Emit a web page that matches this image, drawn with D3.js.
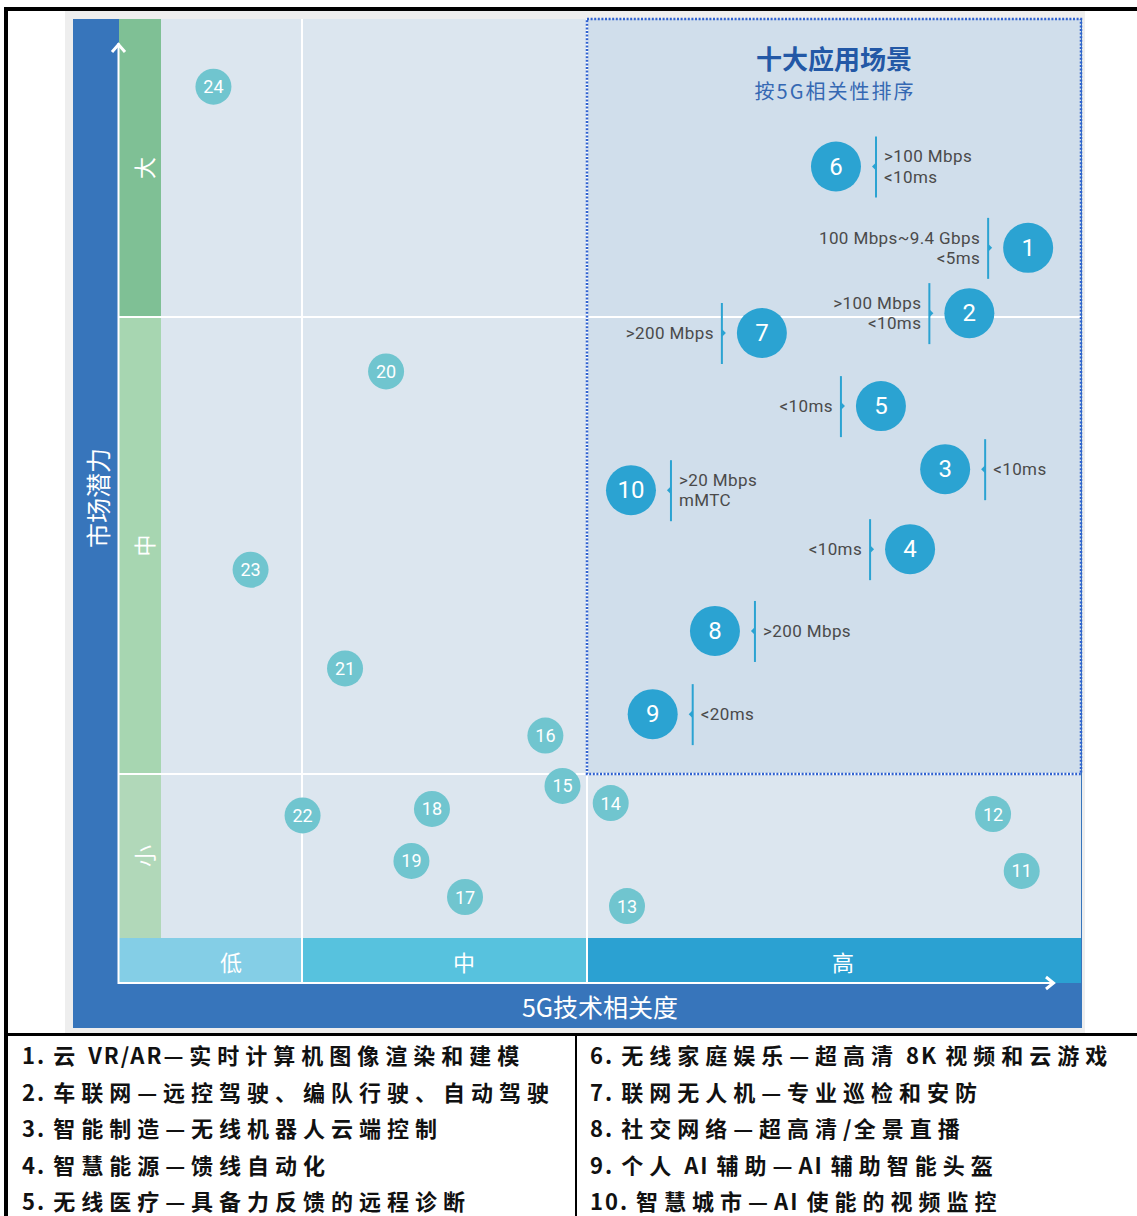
<!DOCTYPE html>
<html>
<head>
<meta charset="utf-8">
<script src="https://cdn.jsdelivr.net/npm/d3@7"></script>
<style>
  body { margin: 0; background: #fff; }
  svg { display: block; }
</style>
</head>
<body>
<div class="chart"></div>
<script>
// scenario ids, x = 5G relevance (0-3: low/mid/high), y = market potential (0-3: small/mid/large)
var ids = [1, 2, 3, 4, 5, 6, 7, 8, 9, 10, 11, 12, 13, 14, 15, 16, 17, 18, 19, 20, 21, 22, 23, 24];
var relevance = [2.893, 2.774, 2.725, 2.654, 2.595, 2.504, 2.354, 2.259, 2.133, 2.089,
                 2.880, 2.822, 2.081, 2.048, 1.914, 1.854, 1.572, 1.456, 1.384, 1.295,
                 1.151, 1.002, 0.719, 0.516];
var potential = [2.232, 2.013, 1.667, 1.492, 1.805, 2.505, 1.965, 1.313, 1.131, 1.621,
                 0.409, 0.756, 0.195, 0.823, 0.927, 1.084, 0.250, 0.787, 0.470, 1.881,
                 1.231, 0.747, 1.447, 2.773];

// requirement notes for the top ten
var noteSide = ["left", "left", "right", "left", "left", "right", "left", "right", "right", "right"];
var noteText = [
  ["100 Mbps~9.4 Gbps", "<5ms"],
  [">100 Mbps", "<10ms"],
  ["<10ms"],
  ["<10ms"],
  ["<10ms"],
  [">100 Mbps", "<10ms"],
  [">200 Mbps"],
  [">200 Mbps"],
  ["<20ms"],
  [">20 Mbps", "mMTC"]
];

var xBands = ["低", "中", "高"];
var yBands = ["小", "中", "大"];

var legendLeft = [
  "1. 云 VR/AR—实时计算机图像渲染和建模",
  "2. 车联网—远控驾驶、编队行驶、自动驾驶",
  "3. 智能制造—无线机器人云端控制",
  "4. 智慧能源—馈线自动化",
  "5. 无线医疗—具备力反馈的远程诊断"
];
var legendRight = [
  "6. 无线家庭娱乐—超高清 8K 视频和云游戏",
  "7. 联网无人机—专业巡检和安防",
  "8. 社交网络—超高清/全景直播",
  "9. 个人 AI 辅助—AI 辅助智能头盔",
  "10. 智慧城市—AI 使能的视频监控"
];

var points = ids.map(function(d, i) {
  return { id: d, x: relevance[i], y: potential[i], big: d <= 10 };
});

var svgWidth = 1137, svgHeight = 1216;
var svg = d3.select(".chart").append("svg")
  .attr("width", svgWidth)
  .attr("height", svgHeight);

var xScale = d3.scaleLinear().domain([0, 1, 2, 3]).range([119, 302, 587, 1081]);
var yScale = d3.scaleLinear().domain([0, 1, 2, 3]).range([938, 774, 317, 19]);
var axisY = 983;

var sans = "Roboto, 'Noto Sans', sans-serif";
var cjk = "'Noto Sans CJK SC', sans-serif";

// outer frame
svg.append("rect").attr("x", 65).attr("y", 11).attr("width", 1020).attr("height", 1022).attr("fill", "#eeeeee");
svg.append("rect").attr("x", 73).attr("y", 19).attr("width", 1009).attr("height", 1009).attr("fill", "#3775bb");

// plot background
svg.append("rect")
  .attr("x", 161).attr("y", yScale(3))
  .attr("width", xScale(3) - 161).attr("height", yScale(0) - yScale(3))
  .attr("fill", "#dce6ef");

// top-ten box fill
svg.append("rect")
  .attr("x", xScale(2)).attr("y", yScale(3))
  .attr("width", xScale(3) - xScale(2)).attr("height", yScale(1) - yScale(3))
  .attr("fill", "#d0deeb");

// y bands
var yColors = ["#b1d8b9", "#a7d6b1", "#7fc095"];
svg.selectAll(".yband").data(yBands).enter().append("rect")
  .attr("x", 119).attr("width", 42)
  .attr("y", function(d, i) { return yScale(i + 1); })
  .attr("height", function(d, i) { return yScale(i) - yScale(i + 1); })
  .attr("fill", function(d, i) { return yColors[i]; });

svg.selectAll(".ylab").data(yBands).enter().append("text")
  .attr("transform", function(d, i) {
    return "translate(143," + (yScale(i) + yScale(i + 1)) / 2 + ") rotate(-90)";
  })
  .attr("text-anchor", "middle")
  .attr("dominant-baseline", "central")
  .style("font", "22px " + cjk)
  .attr("fill", "#fff")
  .text(function(d) { return d; });

// x bands
var xColors = ["#84cee6", "#57c2de", "#2ba1d2"];
var xLabelPos = [231, 464, 843];
svg.selectAll(".xband").data(xBands).enter().append("rect")
  .attr("x", function(d, i) { return xScale(i); })
  .attr("width", function(d, i) { return xScale(i + 1) - xScale(i); })
  .attr("y", yScale(0)).attr("height", axisY - yScale(0))
  .attr("fill", function(d, i) { return xColors[i]; });

svg.selectAll(".xlab").data(xBands).enter().append("text")
  .attr("x", function(d, i) { return xLabelPos[i]; })
  .attr("y", (yScale(0) + axisY) / 2)
  .attr("text-anchor", "middle")
  .attr("dominant-baseline", "central")
  .style("font", "22px " + cjk)
  .attr("fill", "#fff")
  .text(function(d) { return d; });

// grid lines
[1, 2].forEach(function(v) {
  svg.append("line")
    .attr("x1", xScale(v)).attr("x2", xScale(v))
    .attr("y1", yScale(3)).attr("y2", axisY)
    .attr("stroke", "#fff").attr("stroke-width", 2);
  svg.append("line")
    .attr("x1", 118).attr("x2", xScale(3))
    .attr("y1", yScale(v)).attr("y2", yScale(v))
    .attr("stroke", "#fff").attr("stroke-width", 2);
});

// dotted border of the top-ten box
svg.append("rect")
  .attr("x", xScale(2)).attr("y", yScale(3))
  .attr("width", xScale(3) - xScale(2)).attr("height", yScale(1) - yScale(3))
  .attr("fill", "none")
  .attr("stroke", "#2f62d0")
  .attr("stroke-width", 2.5)
  .attr("stroke-dasharray", "2,1.6");

// axes with arrows
svg.append("line").attr("x1", 118.5).attr("x2", 118.5).attr("y1", axisY + 1).attr("y2", 43)
  .attr("stroke", "#fff").attr("stroke-width", 2);
svg.append("path").attr("d", "M112,52 L118.5,44.5 L125,52")
  .attr("fill", "none").attr("stroke", "#fff").attr("stroke-width", 3);
svg.append("line").attr("x1", 118).attr("x2", 1054).attr("y1", axisY).attr("y2", axisY)
  .attr("stroke", "#fff").attr("stroke-width", 2);
svg.append("path").attr("d", "M1046,977 L1053.5,983 L1046,989")
  .attr("fill", "none").attr("stroke", "#fff").attr("stroke-width", 3);

// axis titles
svg.append("text")
  .attr("x", 600).attr("y", 1006)
  .attr("text-anchor", "middle").attr("dominant-baseline", "central")
  .style("font", "25px " + cjk).attr("fill", "#fff")
  .text("5G技术相关度");
svg.append("text")
  .attr("transform", "translate(97,498) rotate(-90)")
  .attr("text-anchor", "middle").attr("dominant-baseline", "central")
  .style("font", "25px " + cjk).attr("fill", "#fff")
  .text("市场潜力");

// box title
svg.append("text")
  .attr("x", 834).attr("y", 57)
  .attr("text-anchor", "middle").attr("dominant-baseline", "central")
  .style("font", "bold 26px " + cjk).attr("fill", "#2358a6")
  .text("十大应用场景");
svg.append("text")
  .attr("x", 835).attr("y", 90)
  .attr("text-anchor", "middle").attr("dominant-baseline", "central")
  .style("font", "20px " + cjk).style("letter-spacing", "2px").attr("fill", "#3568b3")
  .text("按5G相关性排序");

// requirement notes
var notes = svg.selectAll(".note").data(points.filter(function(d) { return d.big; }))
  .enter().append("g")
  .attr("transform", function(d) {
    var dir = noteSide[d.id - 1] == "right" ? 1 : -1;
    return "translate(" + (xScale(d.x) + dir * 40) + "," + yScale(d.y) + ")";
  });

notes.append("line")
  .attr("y1", -30).attr("y2", 31)
  .attr("stroke", "#2ba3d2").attr("stroke-width", 2);

notes.append("path")
  .attr("d", function(d) {
    return noteSide[d.id - 1] == "right" ? "M0,-4 L-4,0 L0,4 Z" : "M0,-4 L4,0 L0,4 Z";
  })
  .attr("fill", "#2ba3d2");

notes.each(function(d) {
  var side = noteSide[d.id - 1];
  var lines = noteText[d.id - 1];
  var t = d3.select(this).append("text")
    .attr("text-anchor", side == "right" ? "start" : "end")
    .style("font", "17px " + sans)
    .style("letter-spacing", "0.4px")
    .attr("fill", "#4a4a4a");
  lines.forEach(function(s, k) {
    t.append("tspan")
      .attr("x", side == "right" ? 8 : -8)
      .attr("y", (k - (lines.length - 1) / 2) * 20.5)
      .attr("dominant-baseline", "central")
      .text(s);
  });
});

// scenario circles
var dots = svg.selectAll(".dot").data(points).enter().append("g")
  .attr("transform", function(d) { return "translate(" + xScale(d.x) + "," + yScale(d.y) + ")"; });

dots.append("circle")
  .attr("r", function(d) { return d.big ? 25 : 18; })
  .attr("fill", function(d) { return d.big ? "#2ba3d2" : "#70c5cf"; });

dots.append("text")
  .attr("text-anchor", "middle")
  .attr("dominant-baseline", "central")
  .style("font", function(d) { return d.big ? "24px Roboto, sans-serif" : "18px Roboto, sans-serif"; })
  .attr("fill", "#fff")
  .text(function(d) { return d.id; });

// page borders
svg.append("rect").attr("x", 4).attr("y", 7).attr("width", 1133).attr("height", 4).attr("fill", "#000");
svg.append("rect").attr("x", 4).attr("y", 7).attr("width", 4).attr("height", 1209).attr("fill", "#000");
svg.append("rect").attr("x", 4).attr("y", 1033).attr("width", 1133).attr("height", 3).attr("fill", "#000");
svg.append("rect").attr("x", 575).attr("y", 1033).attr("width", 2).attr("height", 183).attr("fill", "#000");

// legend: wide spacing for CJK runs, tighter for latin runs
function legendCol(items, x0) {
  svg.selectAll(null).data(items).enter().append("text")
    .attr("x", x0)
    .attr("y", function(d, i) { return 1054 + i * 36.6; })
    .attr("dominant-baseline", "central")
    .style("font", "bold 22px " + cjk)
    .attr("fill", "#111")
    .each(function(d) {
      var t = d3.select(this);
      d.split(/([\u2014\u3000-\u9fff\uff00-\uffef]+)/).forEach(function(run) {
        if (!run) return;
        var isCjk = /[\u2014\u3000-\u9fff]/.test(run);
        t.append("tspan")
          .style("letter-spacing", isCjk ? "6px" : "2px")
          .text(run);
      });
    });
}
legendCol(legendLeft, 22);
legendCol(legendRight, 590);
</script>
</body>
</html>
